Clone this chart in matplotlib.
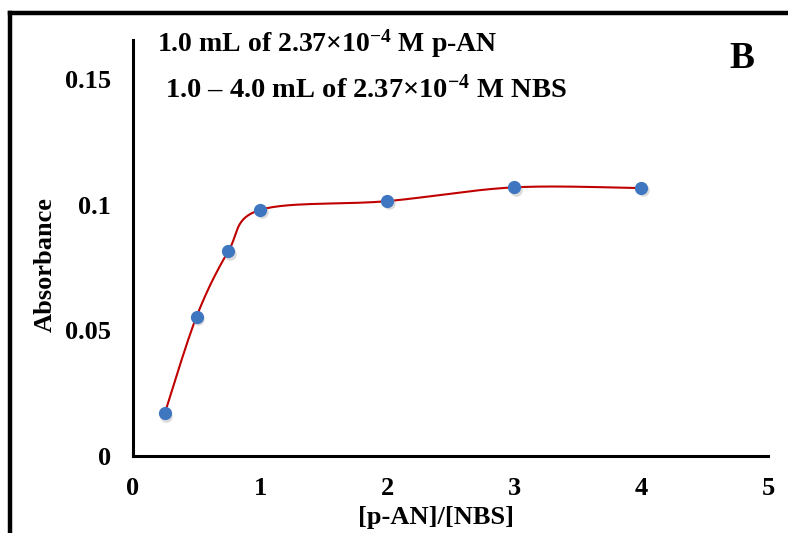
import numpy as np
import matplotlib
matplotlib.use("Agg")
import matplotlib.pyplot as plt
from matplotlib.lines import Line2D

ratio = [0.25, 0.5, 0.75, 1.0, 2.0, 3.0, 4.0]
absorbance = [0.017, 0.0555, 0.0815, 0.098, 0.1015, 0.107, 0.1067]
xticks = [0, 1, 2, 3, 4, 5]
yticks = [0, 0.05, 0.1, 0.15]
ytick_labels = ["0", "0.05", "0.1", "0.15"]

plt.rcParams["font.family"] = ["Liberation Serif", "DejaVu Serif"]
plt.rcParams["font.weight"] = "bold"
plt.rcParams["mathtext.fontset"] = "custom"
plt.rcParams["mathtext.rm"] = "Liberation Serif:bold"
plt.rcParams["mathtext.default"] = "rm"

fig = plt.figure(figsize=(7.88, 5.33), dpi=100)
ax = fig.add_axes([0.1688, 0.1445, 0.8058, 0.7805])
ax.set_xlim(0, 5)
ax.set_ylim(0, 0.1657)


def smooth(xs, ys, n=30):
    # Excel style smoothed line: bezier with catmull-rom control points
    # done in screen-like space so the curve shape matches
    k = (0.7805 * 533) / (0.8058 * 788)
    px = np.array(xs) / 5.0
    py = np.array(ys) / 0.1657 * k
    out_x, out_y = [], []
    m = len(px)
    for i in range(m - 1):
        p0 = (px[max(i - 1, 0)], py[max(i - 1, 0)])
        p1 = (px[i], py[i])
        p2 = (px[i + 1], py[i + 1])
        p3 = (px[min(i + 2, m - 1)], py[min(i + 2, m - 1)])
        c1 = (p1[0] + (p2[0] - p0[0]) / 6, p1[1] + (p2[1] - p0[1]) / 6)
        c2 = (p2[0] - (p3[0] - p1[0]) / 6, p2[1] - (p3[1] - p1[1]) / 6)
        t = np.linspace(0, 1, n)
        bx = (1 - t) ** 3 * p1[0] + 3 * (1 - t) ** 2 * t * c1[0] + 3 * (1 - t) * t ** 2 * c2[0] + t ** 3 * p2[0]
        by = (1 - t) ** 3 * p1[1] + 3 * (1 - t) ** 2 * t * c1[1] + 3 * (1 - t) * t ** 2 * c2[1] + t ** 3 * p2[1]
        out_x.extend(bx)
        out_y.extend(by)
    out_x = np.array(out_x) * 5.0
    out_y = np.array(out_y) * 0.1657 / k
    return out_x, out_y


sx, sy = smooth(ratio, absorbance)
ax.plot(sx, sy, color="#C00000", lw=1.5, zorder=2)
# marker shadow
ax.plot(np.array(ratio) + 0.012, np.array(absorbance) - 0.0009, "o", ms=9,
        color="#999999", alpha=0.35, mec="none", zorder=3)
ax.plot(ratio, absorbance, "o", ms=8.5, color="#3F76C0", mec="#3F76C0", zorder=4)

for s in ["top", "right"]:
    ax.spines[s].set_visible(False)
for s in ["left", "bottom"]:
    ax.spines[s].set_linewidth(2.2)
ax.set_xticks(xticks)
ax.set_yticks(yticks)
ax.set_yticklabels(ytick_labels)
ax.tick_params(length=0, labelsize=19)
ax.tick_params(axis="y", pad=16)
ax.tick_params(axis="x", pad=15)

ax.set_xlabel("[p-AN]/[NBS]", fontsize=19, fontweight="bold")
ax.xaxis.set_label_coords(0.477, -0.12)
ax.set_ylabel("Absorbance", fontsize=19, fontweight="bold")
ax.yaxis.set_label_coords(-0.139, 0.459)
ax.yaxis.label.set_va("center")

fig.text(0.199, 0.917, r"1.0 mL of 2.37×10$^{-4}$ M p-AN", fontsize=20,
         fontweight="bold", va="center")
fig.text(0.209, 0.832, r"1.0 – 4.0 mL of 2.37×10$^{-4}$ M NBS", fontsize=20.5,
         fontweight="bold", va="center")
fig.text(0.942, 0.89, "B", fontsize=27, fontweight="bold", ha="center", va="center")

# outer frame (top and left visible)
fig.add_artist(Line2D([0.0127, 1.0], [0.975, 0.975], transform=fig.transFigure,
                      color="black", lw=3.2))
fig.add_artist(Line2D([0.0127, 0.0127], [0.0, 0.975], transform=fig.transFigure,
                      color="black", lw=3.2))

fig.savefig("out.png", dpi=100)
